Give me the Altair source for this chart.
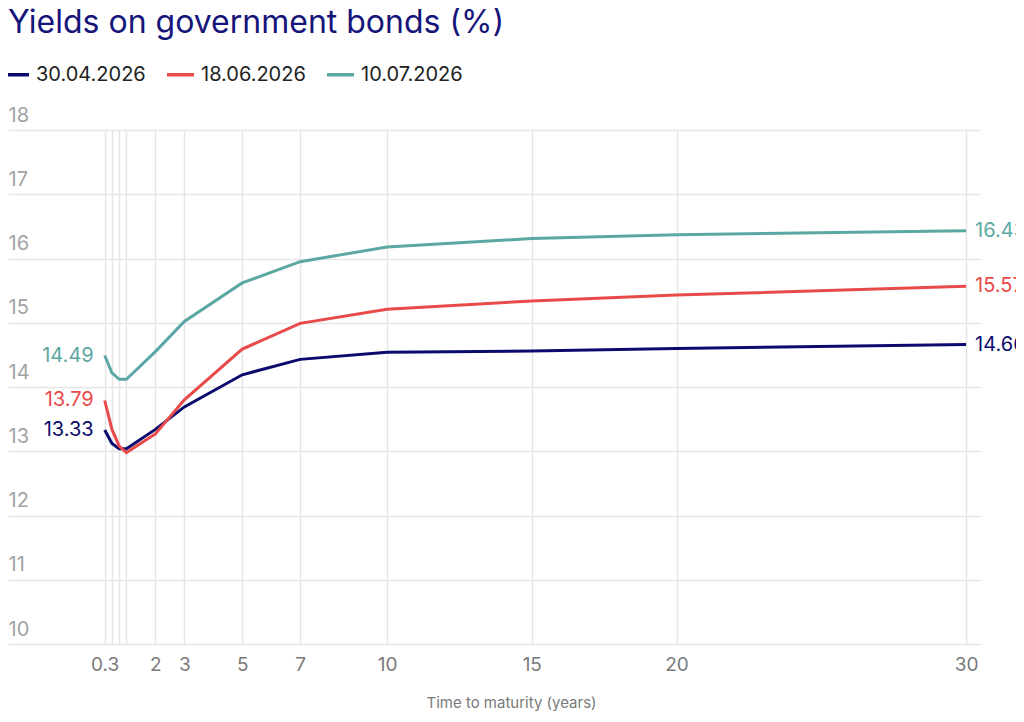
import altair as alt
import pandas as pd

maturity = [0.25, 0.5, 0.75, 1, 2, 3, 5, 7, 10, 15, 20, 30]
series_names = ["30.04.2026", "18.06.2026", "10.07.2026"]
y_30_04 = [13.33, 13.12, 13.04, 13.04, 13.34, 13.69, 14.19, 14.43, 14.54, 14.56, 14.60, 14.66]
y_18_06 = [13.79, 13.34, 13.08, 12.98, 13.27, 13.80, 14.59, 14.99, 15.21, 15.34, 15.43, 15.57]
y_10_07 = [14.49, 14.22, 14.12, 14.12, 14.55, 15.02, 15.62, 15.95, 16.18, 16.31, 16.37, 16.43]
y_ticks = [10, 11, 12, 13, 14, 15, 16, 17, 18]
colors = ["#0b0b6e", "#e84a4a", "#5ba8a3"]

rows = []
for name, vals in zip(series_names, [y_30_04, y_18_06, y_10_07]):
    for m, v in zip(maturity, vals):
        rows.append({"maturity": m, "yield": v, "series": name})
df = pd.DataFrame(rows)

FONT = "Inter"

x = alt.X(
    "maturity:Q",
    scale=alt.Scale(domain=[-3.09, 30.48], nice=False, zero=False),
    axis=alt.Axis(
        values=maturity,
        labelExpr="datum.value == 0.25 ? '0.3' : (datum.value < 1.5 ? '' : datum.label)",
        grid=True, ticks=False, tickSize=0, domain=False,
        labelFontSize=19, labelColor="#7a7a7a", labelFont=FONT, labelPadding=11,
        labelOverlap=False,
        title="Time to maturity (years)", titleFontSize=15, titleColor="#7a7a7a",
        titleFont=FONT, titleFontWeight="normal", titleX=503, titleY=63,
        titleBaseline="alphabetic",
    ),
)
y = alt.Y(
    "yield:Q",
    scale=alt.Scale(domain=[10, 18], nice=False, zero=False),
    axis=alt.Axis(
        values=y_ticks, grid=True, ticks=False, tickSize=0, domain=False,
        labelAlign="left", labelBaseline="alphabetic", labelPadding=0, labelOffset=-9,
        labelFontSize=20, labelColor="#a3a3a3", labelFont=FONT, title=None,
    ),
)
color = alt.Color(
    "series:N",
    scale=alt.Scale(domain=series_names, range=colors),
    legend=alt.Legend(
        orient="none", legendX=-8, legendY=-71, direction="horizontal", title=None,
        symbolType="stroke", symbolSize=729, symbolStrokeWidth=3.5,
        labelFontSize=20, labelColor="#222222", labelFont=FONT,
        labelOffset=5, columnPadding=14,
    ),
)

base = alt.Chart(df)
lines = base.mark_line(strokeWidth=3).encode(x=x, y=y, color=color)
end_labels = base.transform_filter("datum.maturity == 30").mark_text(
    align="left", baseline="middle", dx=9, fontSize=20, font=FONT
).encode(x=x, y=y, color=color, text=alt.Text("yield:Q", format=".2f"))
start_labels = base.transform_filter("datum.maturity == 0.25").mark_text(
    align="right", baseline="middle", dx=-11, fontSize=20, font=FONT
).encode(x=x, y=y, color=color, text=alt.Text("yield:Q", format=".2f"))

chart = alt.layer(lines, end_labels, start_labels).properties(
    width=972, height=514,
    autosize=alt.AutoSizeParams(type="none"),
    padding={"left": 0, "top": 122, "right": 36, "bottom": 70},
    title=alt.Title(
        "Yields on government bonds (%)", anchor="start", frame="group",
        fontSize=32, font=FONT, fontWeight="normal", color="#15157a", offset=19,
    ),
).configure_view(stroke=None).configure_axis(gridColor="#e6e6e6", gridWidth=1.5)

chart.save("out.html", embed_options={"renderer": "svg", "actions": False})
